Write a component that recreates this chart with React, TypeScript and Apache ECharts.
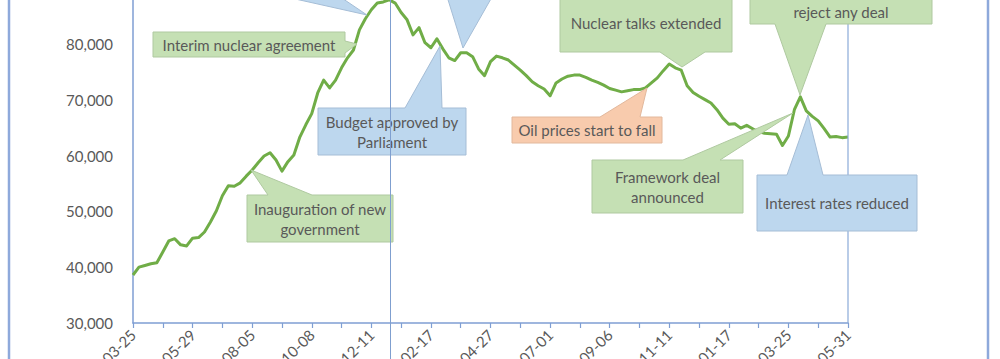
import React, { useEffect, useRef } from "react";
import * as echarts from "echarts";

// Tick labels on the x axis (every 20 trading days)
const tickLabels = [
  "2013-03-25", "2013-05-29", "2013-08-05", "2013-10-08", "2013-12-11",
  "2014-02-17", "2014-04-27", "2014-07-01", "2014-09-06", "2014-11-11",
  "2015-01-17", "2015-03-25", "2015-05-31",
];

// Index values, one every 2 trading days (x index = position * 2)
const indexValues = [
  38600, 40000, 40300, 40600, 40800, 42700, 44700, 45100, 44000, 43800,
  45200, 45300, 46300, 48100, 50100, 52800, 54600, 54500, 55100, 56300,
  57400, 58700, 59900, 60500, 59200, 57200, 58900, 60100, 63300, 65500,
  67500, 71200, 73500, 72100, 73500, 75700, 77500, 78900, 82500, 84500,
  86100, 87300, 87500, 87900, 87300, 85600, 84300, 81600, 82900, 80200,
  79300, 80900, 79100, 77500, 77000, 78400, 78400, 77700, 75500, 74300,
  76800, 77800, 77500, 77100, 76200, 75300, 74300, 73200, 72500, 71900,
  70700, 73000, 73700, 74200, 74400, 74400, 74000, 73500, 73100, 72600,
  72000, 71700, 71400, 71600, 71800, 71800, 72100, 73000, 73900, 75200,
  76400, 75700, 75300, 72500, 71300, 70600, 70000, 69400, 68200, 66700,
  65600, 65700, 64900, 65400, 64800, 64200, 64000, 63900, 63800, 61800,
  63500, 68200, 70500, 68000, 67000, 66200, 64800, 63300, 63400, 63200,
  63300,
];
const STEP = 2;

const yMin = 30000;
const yMax = 90000;
const yStep = 10000;

type Callout = {
  lines: string[];
  kind: "green" | "blue" | "orange";
  box: [number, number, number, number]; // x, y, w, h
  edge: "top" | "bottom" | "right";
  base: [number, number];
  tip: [number, number];
  textY?: number[];
};

const callouts: Callout[] = [
  { lines: [], kind: "blue", box: [200, -70, 170, 60], edge: "bottom", base: [255, 330], tip: [367, 15] },
  { lines: [], kind: "blue", box: [400, -70, 170, 60], edge: "bottom", base: [445, 496], tip: [463, 48] },
  { lines: ["Interim nuclear agreement"], kind: "green", box: [153, 32, 192, 25], edge: "right", base: [41, 53], tip: [357, 44] },
  { lines: ["Budget approved by", "Parliament"], kind: "blue", box: [318, 108, 148, 47], edge: "top", base: [405, 442], tip: [440, 46] },
  { lines: ["Oil prices start to fall"], kind: "orange", box: [512, 117, 150, 26], edge: "top", base: [600, 640], tip: [647, 88] },
  { lines: ["Nuclear talks extended"], kind: "green", box: [560, -6, 172, 58], edge: "bottom", base: [660, 705], tip: [682, 67] },
  { lines: ["reject any deal"], kind: "green", box: [750, -30, 182, 54], edge: "bottom", base: [775, 826], tip: [800, 95], textY: [12] },
  { lines: ["Framework deal", "announced"], kind: "green", box: [592, 160, 151, 53], edge: "top", base: [683, 720], tip: [793, 113] },
  { lines: ["Interest rates reduced"], kind: "blue", box: [757, 175, 160, 56], edge: "top", base: [787, 823], tip: [808, 115] },
  { lines: ["Inauguration of new", "government"], kind: "green", box: [247, 195, 146, 47], edge: "top", base: [268, 312], tip: [251, 170] },
];

const fills = { green: "#C5E0B4", blue: "#BDD7EE", orange: "#F8CBAD" };
const strokes = { green: "#AFC9A0", blue: "#A5BDD6", orange: "#E2B89C" };

function calloutPoints(c: Callout): number[][] {
  const [x, y, w, h] = c.box;
  const x1 = x + w;
  const y1 = y + h;
  const [a, b] = c.base;
  if (c.edge === "top") {
    return [[x, y], [a, y], c.tip, [b, y], [x1, y], [x1, y1], [x, y1]];
  }
  if (c.edge === "bottom") {
    return [[x, y], [x1, y], [x1, y1], [b, y1], c.tip, [a, y1], [x, y1]];
  }
  return [[x, y], [x1, y], [x1, a], c.tip, [x1, b], [x1, y1], [x, y1]];
}

function buildGraphics() {
  const els: any[] = [];
  els.push({ type: "line", z: 5, shape: { x1: 848, y1: 0, x2: 848, y2: 323 }, style: { stroke: "#8AAAD8", lineWidth: 1.2 } });
  callouts.forEach((c) => {
    els.push({
      type: "polygon",
      z: 10,
      shape: { points: calloutPoints(c) },
      style: { fill: fills[c.kind], stroke: strokes[c.kind], lineWidth: 1 },
    });
    const [x, y, w, h] = c.box;
    const n = c.lines.length;
    c.lines.forEach((t, i) => {
      const ty = c.textY ? c.textY[i] : y + h / 2 + (i - (n - 1) / 2) * 20;
      els.push({
        type: "text",
        z: 11,
        style: {
          text: t,
          x: x + w / 2,
          y: ty,
          align: "center",
          verticalAlign: "middle",
          fill: "#595959",
          fontSize: 15,
          fontFamily: "Lato",
        },
      });
    });
  });
  els.push({ type: "line", z: 12, shape: { x1: 390.5, y1: 0, x2: 390.5, y2: 359 }, style: { stroke: "#7F9FCF", lineWidth: 1 } });
  els.push({ type: "rect", z: 12, shape: { x: 9, y: -10, width: 979, height: 400 }, style: { fill: "none", stroke: "#8EA9DB", lineWidth: 2.5 } });
  return els;
}

export default function App() {
  const ref = useRef<HTMLDivElement>(null);
  useEffect(() => {
    if (!ref.current) return;
    const chart = echarts.init(ref.current, undefined, { renderer: "svg" });
    const axisColor = "#7F9ED3";
    chart.setOption({
      animation: false,
      backgroundColor: "#ffffff",
      grid: { left: 133, right: 152, top: -12, bottom: 36, containLabel: false, outerBoundsMode: "none" },
      xAxis: {
        type: "value",
        min: 0,
        max: (tickLabels.length - 1) * 20,
        interval: 10,
        axisLine: { show: true, onZero: false, lineStyle: { color: axisColor, width: 1.5 } },
        axisTick: { show: true, length: 5, lineStyle: { color: axisColor, width: 1.2 } },
        splitLine: { show: false },
        axisLabel: {
          rotate: 45,
          margin: 9,
          color: "#595959",
          fontSize: 15,
          fontFamily: "Lato",
          showMinLabel: true,
          showMaxLabel: true,
          formatter: (v: number) => (v % 20 === 0 ? tickLabels[v / 20] : ""),
        },
      },
      yAxis: {
        type: "value",
        min: yMin,
        max: yMax,
        interval: yStep,
        axisLine: { show: true, lineStyle: { color: axisColor, width: 1.5 } },
        axisTick: { show: false },
        splitLine: { show: false },
        axisLabel: {
          margin: 20,
          color: "#595959",
          fontSize: 15,
          fontFamily: "Lato",
          showMaxLabel: false,
          formatter: (v: number) => v.toLocaleString("en-US"),
        },
      },
      series: [
        {
          type: "line",
          data: indexValues.map((v, i) => [i * STEP, v]),
          showSymbol: false,
          clip: false,
          lineStyle: { color: "#70AD47", width: 3, join: "round" },
          itemStyle: { color: "#70AD47" },
        },
      ],
      graphic: buildGraphics(),
    });
    return () => chart.dispose();
  }, []);
  return <div ref={ref} style={{ position: "fixed", left: 0, top: 0, width: 1000, height: 359 }} />;
}
